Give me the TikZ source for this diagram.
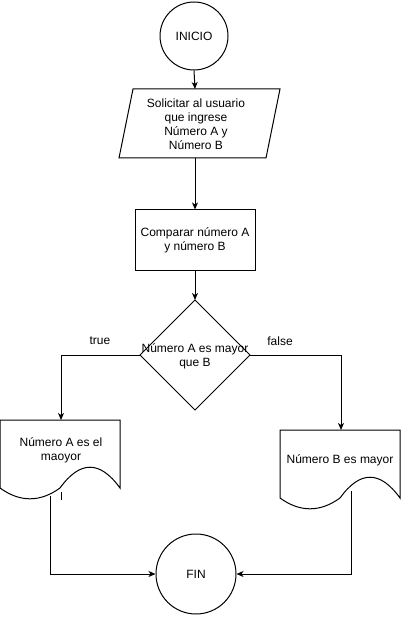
\documentclass[tikz,border=0pt]{standalone}
\usepackage{fontspec}
\setmainfont{Liberation Sans}
\usetikzlibrary{arrows.meta}
\begin{document}
\begin{tikzpicture}[x=1pt,y=-1pt,line width=1pt,
  every node/.style={font=\fontsize{12}{14}\selectfont,inner sep=0pt},
  arr/.style={-{Stealth[length=7pt,width=6pt,inset=2pt]}},
  shp/.style={draw,line width=1pt},
  txt/.style={align=center}]
\useasboundingbox (0,0) rectangle (401,617);
% INICIO
\node[shp,circle,minimum size=68pt] (ini) at (194,36) {INICIO};
% input parallelogram
\coordinate (solT) at (195,89);
\coordinate (solB) at (195,158);
\draw (133,89) -- (280,89) -- (266,158) -- (119,158) -- cycle;
\node[txt] (sol) at (196,124) {Solicitar al usuario\\que ingrese\\Número A y\\Número B};
% process
\node[shp,rectangle,minimum width=120pt,minimum height=60pt,txt] (cmp) at (195,240) {Comparar número A\\y número B};
% decision
\coordinate (dT) at (195,300);
\coordinate (dL) at (140,355);
\coordinate (dR) at (250,355);
\coordinate (dB) at (195,410);
\draw (dT) -- (dR) -- (dB) -- (dL) -- cycle;
\node[txt] (dec) at (195,356) {Número A es mayor\\que B};
% left document
\draw (0,420) -- (120,420) -- (120,488)
  .. controls (100,460.3) and (80,460.3) .. (60,488)
  .. controls (40,502.4) and (20,502.4) .. (0,488) -- cycle;
\coordinate (docAT) at (61,420);
\coordinate (docAB) at (50,496);
\node[txt] (docA) at (61,450) {Número A es el\\maoyor};
% right document
\draw (280,430) -- (400,430) -- (400,498)
  .. controls (380,470.3) and (360,470.3) .. (340,498)
  .. controls (320,512.4) and (300,512.4) .. (280,498) -- cycle;
\coordinate (docBT) at (341,430);
\coordinate (docBB) at (351,491);
\node (docB) at (340,460) {Número B es mayor};
% FIN
\node[shp,circle,minimum size=80pt] (fin) at (196,574) {FIN};
% connectors
\draw[arr] (ini.south) -- (solT);
\draw[arr] (solB) -- (cmp.north);
\draw[arr] (cmp.south) -- (dT);
\draw[arr] (dL) -| (docAT);
\draw[arr] (dR) -| (docBT);
\node (t) at (100,341) {true};
\node (f) at (280,341) {false};
\coordinate (tick1) at (61,492);
\coordinate (tick2) at (61,500);
\draw (tick1) -- (tick2);
\draw[arr] (docAB) |- (fin.west);
\draw[arr] (docBB) |- (fin.east);
\end{tikzpicture}
\end{document}
